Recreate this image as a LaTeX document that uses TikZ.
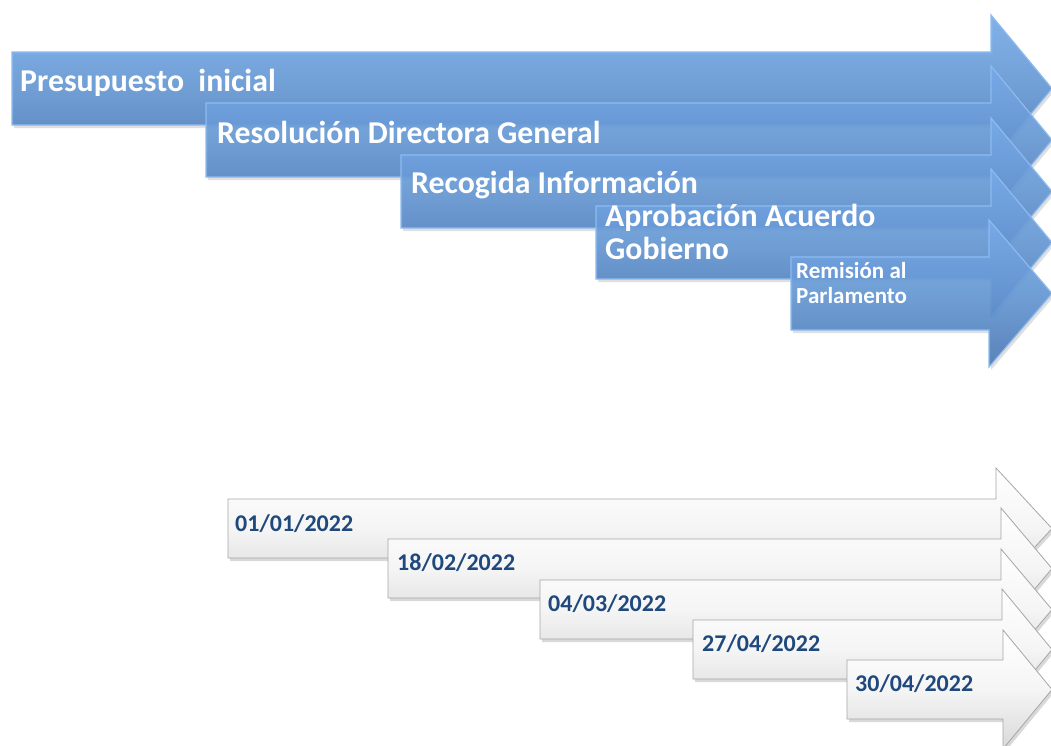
\documentclass[tikz,border=0pt]{standalone}
\usepackage{fontspec}
\setmainfont{Carlito}
\usetikzlibrary{shadows}
\definecolor{bTop}{HTML}{78ACEA}
\definecolor{bMid}{HTML}{6598D5}
\definecolor{bBot}{HTML}{4A78B4}
\definecolor{bEdge}{HTML}{8DBBF0}
\definecolor{wBot}{HTML}{D9D9D9}
\definecolor{wEdge}{HTML}{A6A6A6}
\definecolor{dateblue}{HTML}{1F497D}
\tikzset{
  bluearrow/.style={top color=bTop, bottom color=bBot, middle color=bMid, fill opacity=0.9,
    draw=bEdge, line width=1.2pt, line join=miter,
    drop shadow={opacity=0.25, shadow xshift=2pt, shadow yshift=-3pt}},
  whitearrow/.style={top color=white, bottom color=wBot, middle color=white!96!black,
    draw=wEdge, line width=0.8pt, line join=miter,
    drop shadow={opacity=0.3, shadow xshift=2pt, shadow yshift=-3pt}},
  toptext/.style={anchor=base west, text=white, font=\bfseries\fontsize{31.8}{33}\selectfont, inner sep=0pt, align=left},
  smalltext/.style={anchor=base west, text=white, font=\bfseries\fontsize{23}{25}\selectfont, inner sep=0pt, align=left},
  datetext/.style={anchor=base west, text=dateblue, font=\bfseries\fontsize{24}{26}\selectfont, inner sep=0pt}
}
% #1 left x, #2 top y, #3 bottom y, #4 head start x, #5 head overhang, #6 style
\newcommand\myArrow[6]{%
  \path[#6] (#1,#2) -- (#4,#2) -- (#4,#2-#5) -- (1052,{(#2+#3)/2}) -- (#4,#3+#5) -- (#4,#3) -- (#1,#3) -- cycle;}
\begin{document}
\begin{tikzpicture}[x=1pt,y=-1pt]
\useasboundingbox (0,0) rectangle (1051,745);
% blue arrows
\myArrow{12}{52}{125}{991}{37}{bluearrow}
\node[toptext] (t1) at (20,91) {Presupuesto\ \ inicial};
\myArrow{206}{103}{177}{991}{37}{bluearrow}
\node[toptext] (t2) at (217,143) {Resolución Directora General};
\myArrow{401}{155}{228}{991}{37}{bluearrow}
\node[toptext] (t3) at (411,193) {Recogida Información};
\myArrow{596}{206}{279}{991}{37}{bluearrow}
\node[toptext] (t4) at (605,259) {Aprobación Acuerdo\\Gobierno};
\myArrow{791}{257}{330}{989}{37}{bluearrow}
\node[smalltext] (t5) at (796,303) {Remisión al\\Parlamento};
% white arrows
\myArrow{228}{499}{558}{996}{31}{whitearrow}
\node[datetext] (d1) at (235,531) {01/01/2022};
\myArrow{388}{539}{598}{1001}{31}{whitearrow}
\node[datetext] (d2) at (397,570) {18/02/2022};
\myArrow{540}{580}{639}{1001}{31}{whitearrow}
\node[datetext] (d3) at (548,611) {04/03/2022};
\myArrow{693}{620}{679}{1002}{31}{whitearrow}
\node[datetext] (d4) at (702,651) {27/04/2022};
\myArrow{847}{660}{719}{1003}{30}{whitearrow}
\node[datetext] (d5) at (855,691) {30/04/2022};
\end{tikzpicture}
\end{document}
